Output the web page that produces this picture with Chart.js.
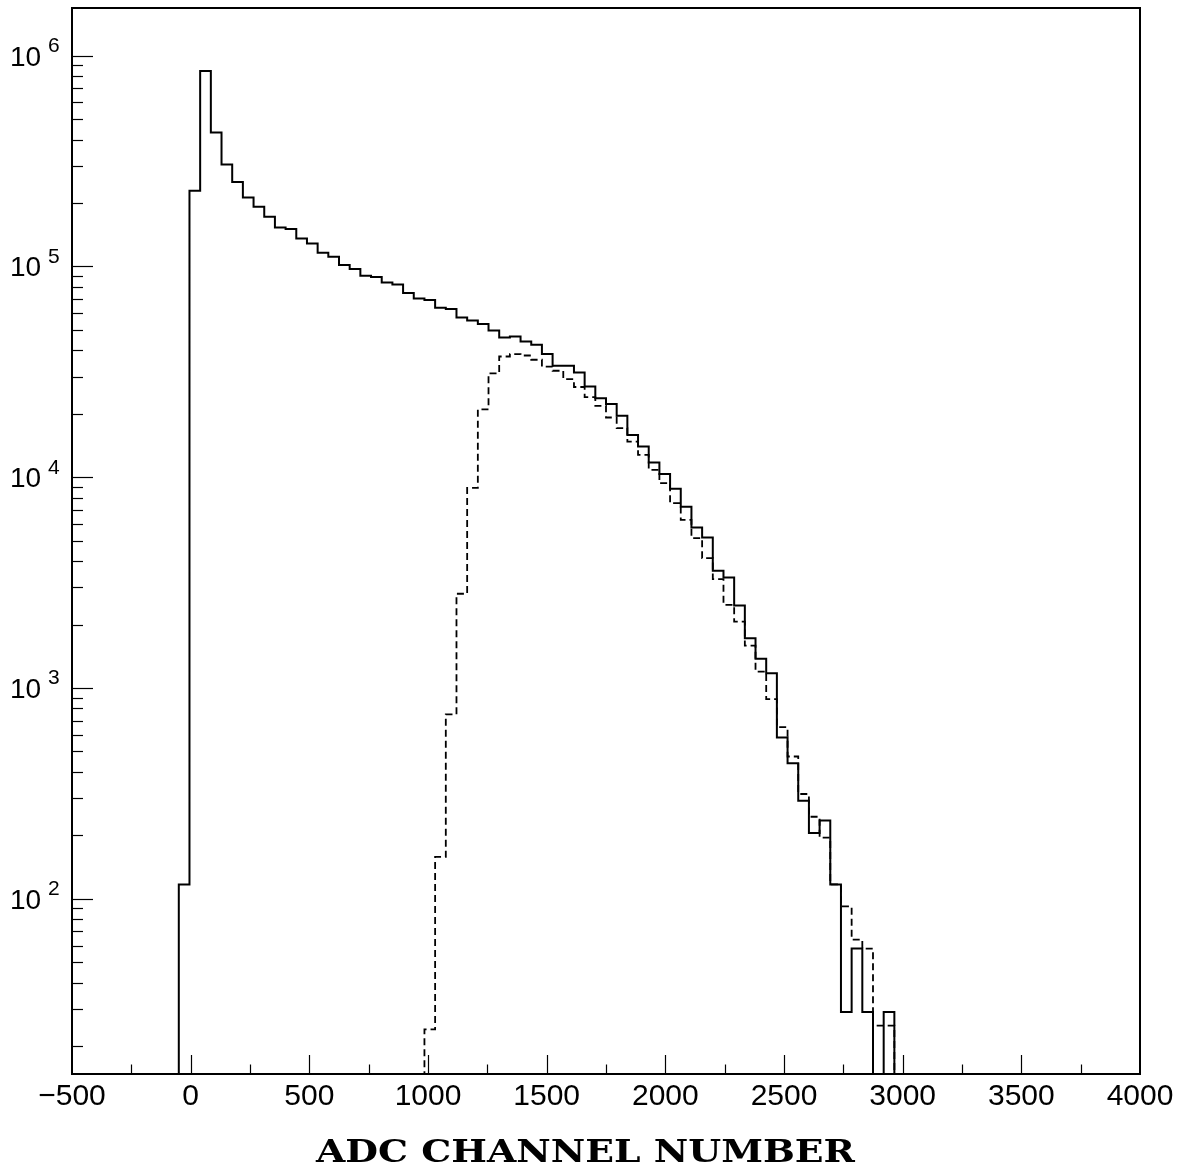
<!DOCTYPE html>
<html>
<head>
<meta charset="utf-8">
<script src="https://cdn.jsdelivr.net/npm/chart.js@4.4.0/dist/chart.umd.min.js"></script>
<style>
  html, body { margin: 0; padding: 0; background: #fff; }
  #grafico { display: block; }
</style>
</head>
<body>
<canvas id="grafico" width="1188" height="1169"></canvas>
<script>
// --- dados do histograma (canais ADC, bins de 45) ---
const binStart = -50;
const binWidth = 45;

// contagens por bin, histograma cheio (a partir do bin -50..-5)
const solidCounts = [
  117, 228700, 846000, 432700, 304700, 251500, 212600, 192000, 172100, 153100,
  150500, 135800, 128600, 116100, 111100, 101500, 97200, 90400, 89100, 84000,
  82150, 74800, 70500, 69270, 63650, 62800, 57300, 55420, 53300, 49700,
  46030, 46550, 44090, 42500, 38380, 33790, 33790, 31430, 26970, 23730,
  22230, 19560, 15860, 13990, 11750, 10350, 8820, 7236, 5770, 5170,
  3597, 3343, 2462, 1720, 1375, 1175, 582, 440, 292, 205,
  235, 117, 29, 58, 29, 0, 29
];

// histograma tracejado, começa no bin 23 (985..1030)
const dashedFirstBin = 23;
const dashedCounts = [
  24, 158, 750, 2800, 8900, 21000, 31100, 37400, 38400, 37800,
  36100, 33500, 32000, 29200, 26800, 24000, 21800, 19200, 17100, 14760,
  12770, 10840, 9370, 7530, 6280, 5140, 4130, 3283, 2480, 2066,
  1587, 1196, 885, 652, 473, 314, 245, 195, 117, 92,
  64, 58, 25, 25
];

const xTicks = [-500, 0, 500, 1000, 1500, 2000, 2500, 3000, 3500, 4000];
const yDecades = [2, 3, 4, 5, 6];
const xTitle = 'ADC CHANNEL NUMBER';

// bins vazios: abaixo do mínimo do eixo log (o Chart.js pula o zero)
const emptyLevel = 1;

// transforma contagens em pontos de degrau (borda direita de cada bin)
function histPoints(counts, firstBin) {
  const pts = [{ x: binStart + firstBin * binWidth, y: emptyLevel }];
  counts.forEach((c, i) => {
    pts.push({ x: binStart + (firstBin + i + 1) * binWidth, y: c > 0 ? c : emptyLevel });
  });
  pts.push({ x: binStart + (firstBin + counts.length) * binWidth, y: emptyLevel });
  return pts;
}

// ticks internos, rótulos 10^n e moldura
const eixosPlugin = {
  id: 'eixos',
  afterDraw(chart) {
    const ctx = chart.ctx;
    const area = chart.chartArea;
    const xs = chart.scales.x;
    const ys = chart.scales.y;
    ctx.save();
    ctx.strokeStyle = '#000';

    // ticks do eixo x (para dentro)
    ctx.lineWidth = 1.2;
    for (let v = xs.min + 250; v < xs.max; v += 250) {
      const px = Math.round(xs.getPixelForValue(v)) + 0.5;
      const len = (v % 500 === 0) ? 19 : 9.5;
      ctx.beginPath();
      ctx.moveTo(px, area.bottom);
      ctx.lineTo(px, area.bottom - len);
      ctx.stroke();
    }

    // ticks do eixo y (log)
    for (let d = 1; d <= 6; d++) {
      for (let m = 1; m <= 9; m++) {
        const v = m * Math.pow(10, d);
        if (v <= ys.min || v >= ys.max) continue;
        const py = Math.round(ys.getPixelForValue(v)) + 0.5;
        const len = (m === 1) ? 21 : 11;
        ctx.beginPath();
        ctx.moveTo(area.left, py);
        ctx.lineTo(area.left + len, py);
        ctx.stroke();
      }
    }

    // moldura
    ctx.lineWidth = 2;
    ctx.strokeRect(area.left, area.top, area.right - area.left, area.bottom - area.top);

    // rótulos 10^n
    ctx.fillStyle = '#000';
    ctx.textAlign = 'left';
    ctx.textBaseline = 'alphabetic';
    yDecades.forEach(d => {
      const py = ys.getPixelForValue(Math.pow(10, d));
      ctx.font = '28px "Liberation Sans", Arial, sans-serif';
      ctx.fillText('10', 10, py + 10);
      ctx.font = '21px "Liberation Sans", Arial, sans-serif';
      ctx.fillText(String(d), 48, py - 3.5);
    });

    // título do eixo x (serifado, negrito, esticado)
    ctx.font = 'bold 32px "DejaVu Serif", serif';
    const w = ctx.measureText(xTitle).width;
    ctx.translate(585.5, 1162);
    ctx.scale(539 / w, 1);
    ctx.textAlign = 'center';
    ctx.fillText(xTitle, 0, 0);
    ctx.restore();
  }
};

document.addEventListener('DOMContentLoaded', () => {
  const ctx = document.getElementById('grafico').getContext('2d');

  new Chart(ctx, {
    type: 'line',
    data: {
      datasets: [
        {
          label: 'total',
          data: histPoints(solidCounts, 0),
          borderColor: '#000',
          borderWidth: 2,
          pointRadius: 0,
          stepped: 'after',
          fill: false
        },
        {
          label: 'selecionado',
          data: histPoints(dashedCounts, dashedFirstBin),
          borderColor: '#000',
          borderWidth: 1.8,
          borderDash: [7, 4],
          pointRadius: 0,
          stepped: 'after',
          fill: false
        }
      ]
    },
    options: {
      responsive: false,
      animation: false,
      layout: {
        padding: { left: 72, right: 48, top: 8, bottom: 0 }
      },
      plugins: {
        legend: { display: false },
        tooltip: { enabled: false }
      },
      scales: {
        x: {
          type: 'linear',
          min: -500,
          max: 4000,
          afterBuildTicks: (scale) => {
            scale.ticks = xTicks.map(v => ({ value: v }));
          },
          afterFit: (scale) => { scale.height = 95; },
          grid: { display: false, drawTicks: false },
          border: { display: false },
          ticks: {
            autoSkip: false,
            maxRotation: 0,
            padding: 5,
            color: '#000',
            font: { family: '"Liberation Sans", Arial, sans-serif', size: 30 },
            callback: (v) => v < 0 ? '\u2212' + Math.abs(v) : String(v)
          }
        },
        y: {
          type: 'logarithmic',
          min: 14.74,
          max: 1.684e6,
          afterFit: (scale) => { scale.width = 0; },
          grid: { display: false, drawTicks: false },
          border: { display: false },
          ticks: { display: false }
        }
      }
    },
    plugins: [eixosPlugin]
  });
});
</script>
</body>
</html>
